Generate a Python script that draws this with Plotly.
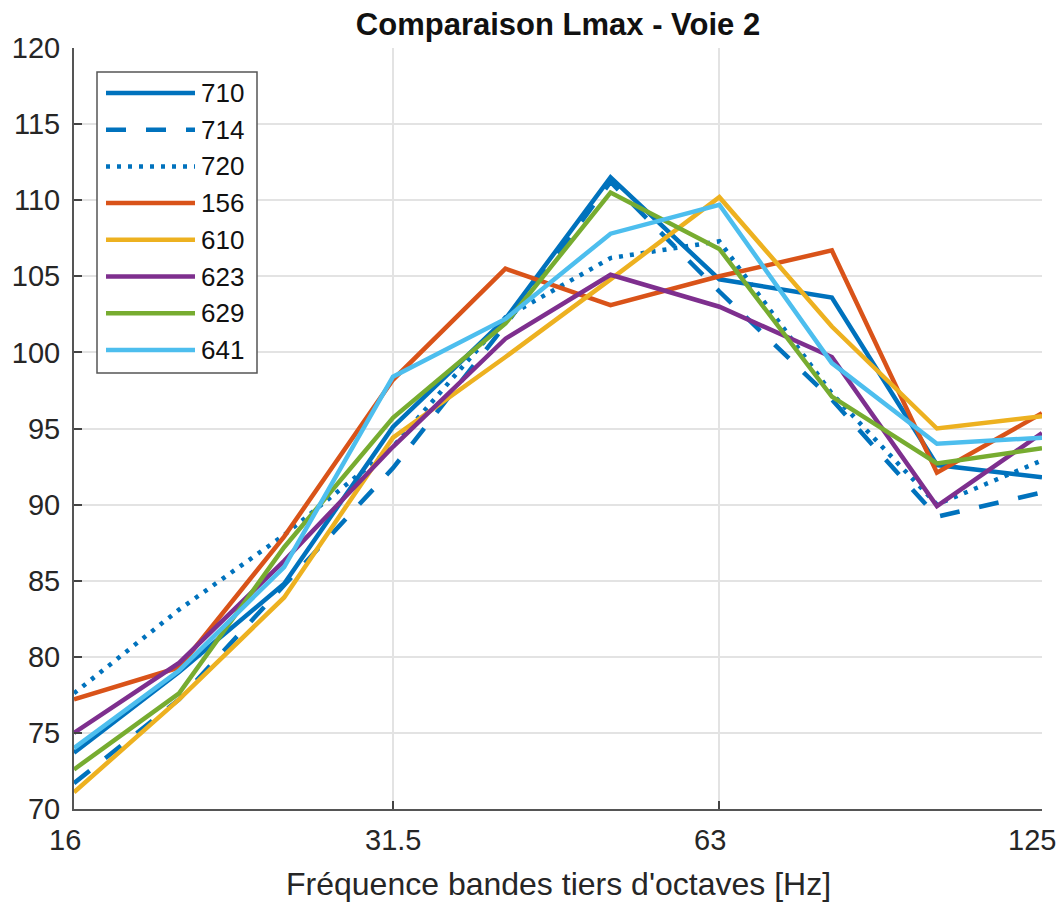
import math
import plotly.graph_objects as go

# ---------------- data ----------------
freqs = [16, 20, 25, 31.5, 40, 50, 63, 80, 100, 125]
tick_vals = [16, 31.5, 63, 125]
tick_text = ["16", "31.5", "63", "125"]

series_names = ["710", "714", "720", "156", "610", "623", "629", "641"]
s710 = [73.7, 79.0, 84.8, 95.1, 102.2, 111.5, 104.8, 103.6, 92.6, 91.8]
s714 = [71.7, 77.2, 84.7, 92.4, 101.8, 111.2, 104.0, 96.9, 89.2, 90.8]
s720 = [77.6, 83.1, 88.0, 93.8, 102.3, 106.2, 107.3, 97.3, 90.0, 92.9]
s156 = [77.2, 79.3, 87.9, 98.2, 105.5, 103.1, 105.0, 106.7, 92.1, 96.0]
s610 = [71.1, 77.2, 83.9, 94.4, 99.7, 104.8, 110.2, 101.7, 95.0, 95.8]
s623 = [75.0, 79.6, 86.3, 93.8, 100.9, 105.1, 103.0, 99.7, 89.9, 94.7]
s629 = [72.6, 77.6, 87.2, 95.7, 101.9, 110.5, 106.8, 97.1, 92.7, 93.7]
s641 = [74.0, 79.1, 85.9, 98.4, 102.2, 107.8, 109.7, 99.3, 94.0, 94.4]
series_values = [s710, s714, s720, s156, s610, s623, s629, s641]

# ---------------- styles ----------------
colors = ["#0072BD", "#0072BD", "#0072BD", "#D95319", "#EDB120",
          "#7E2F8E", "#77AC30", "#4DBEEE"]
dashes = ["solid", "20px,20px", "4px,7px", "solid", "solid",
          "solid", "solid", "solid"]
LW = 4.5
FONT = "Liberation Sans, Arial, sans-serif"

W, H = 1064, 903
L, R, T, B = 74, 22, 48, 94
pw, ph = W - L - R, H - T - B

def px2paper_x(px):
    return (px - L) / pw

def px2paper_y(py):
    return (H - B - py) / ph

fig = go.Figure()
for name, vals, c, d in zip(series_names, series_values, colors, dashes):
    fig.add_trace(go.Scatter(x=freqs, y=vals, mode="lines", name=name,
                             line=dict(color=c, width=LW, dash=d),
                             showlegend=False))

# ---------------- custom legend (MATLAB-like) ----------------
shapes = []
annotations = []
box_x0, box_x1, box_y0, box_y1 = 97, 257, 72, 373
shapes.append(dict(type="rect", xref="paper", yref="paper",
                   x0=px2paper_x(box_x0), x1=px2paper_x(box_x1),
                   y0=px2paper_y(box_y1), y1=px2paper_y(box_y0),
                   line=dict(color="#555555", width=1.5),
                   fillcolor="white", layer="above"))
row0, step = 93, 36.7
for i, (name, c, d) in enumerate(zip(series_names, colors, dashes)):
    yy = row0 + i * step
    shapes.append(dict(type="line", xref="paper", yref="paper",
                       x0=px2paper_x(106), x1=px2paper_x(195),
                       y0=px2paper_y(yy), y1=px2paper_y(yy),
                       line=dict(color=c, width=LW, dash=d), layer="above"))
    annotations.append(dict(xref="paper", yref="paper",
                            x=px2paper_x(199), y=px2paper_y(yy),
                            xanchor="left", yanchor="middle",
                            text=name, showarrow=False,
                            font=dict(family=FONT, size=26, color="#111111")))

# x tick labels: drawn as text so the last one stays inside the page
tick_label_pos = [(px2paper_x(65), "center"), (None, "center"),
                  (px2paper_x(710), "center"), (px2paper_x(1058), "right")]
for tv, tt, (xp, anc) in zip(tick_vals, tick_text, tick_label_pos):
    if xp is None:
        xp = (math.log10(tv) - math.log10(16)) / (math.log10(125) - math.log10(16))
    annotations.append(dict(xref="paper", yref="paper", x=xp,
                            y=px2paper_y(840), xanchor=anc, yanchor="middle",
                            text=tt, showarrow=False,
                            font=dict(family=FONT, size=29, color="#262626")))

annotations.append(dict(xref="paper", yref="paper", x=0.5, y=px2paper_y(884),
                        xanchor="center", yanchor="middle", showarrow=False,
                        text="Fréquence bandes tiers d'octaves [Hz]",
                        font=dict(family=FONT, size=32, color="#262626")))

fig.update_layout(
    width=W, height=H,
    autosize=False,
    margin=dict(l=L, r=R, t=T, b=B, pad=0, autoexpand=False),
    paper_bgcolor="white", plot_bgcolor="white",
    title=dict(text="<b>Comparaison Lmax - Voie 2</b>",
               x=(L + pw / 2) / W, xanchor="center",
               y=1 - 24 / H, yanchor="middle",
               automargin=False,
               font=dict(family=FONT, size=31, color="#111111")),
    font=dict(family=FONT, color="#262626"),
    shapes=shapes,
    annotations=annotations,
)

fig.update_xaxes(
    type="log", range=[math.log10(16), math.log10(125)],
    tickvals=tick_vals, showticklabels=False, automargin=False,
    ticks="inside", ticklen=8, tickwidth=1.5, tickcolor="#444444",
    showline=True, linecolor="#555555", linewidth=2, mirror=False,
    showgrid=True, gridcolor="#e3e3e3", gridwidth=1.5,
    zeroline=False,
)
fig.update_yaxes(
    range=[70, 120], tickvals=list(range(70, 121, 5)),
    tickfont=dict(size=29, color="#262626"), automargin=False,
    ticks="inside", ticklen=8, tickwidth=1.5, tickcolor="#444444",
    showline=True, linecolor="#555555", linewidth=2, mirror=False,
    showgrid=True, gridcolor="#e3e3e3", gridwidth=1.5,
    zeroline=False, ticklabelstandoff=6,
)

fig.write_html("out.html",
               config={"displayModeBar": False},
               post_script="document.body.style.margin='0';"
                           "document.body.style.overflow='hidden';")
